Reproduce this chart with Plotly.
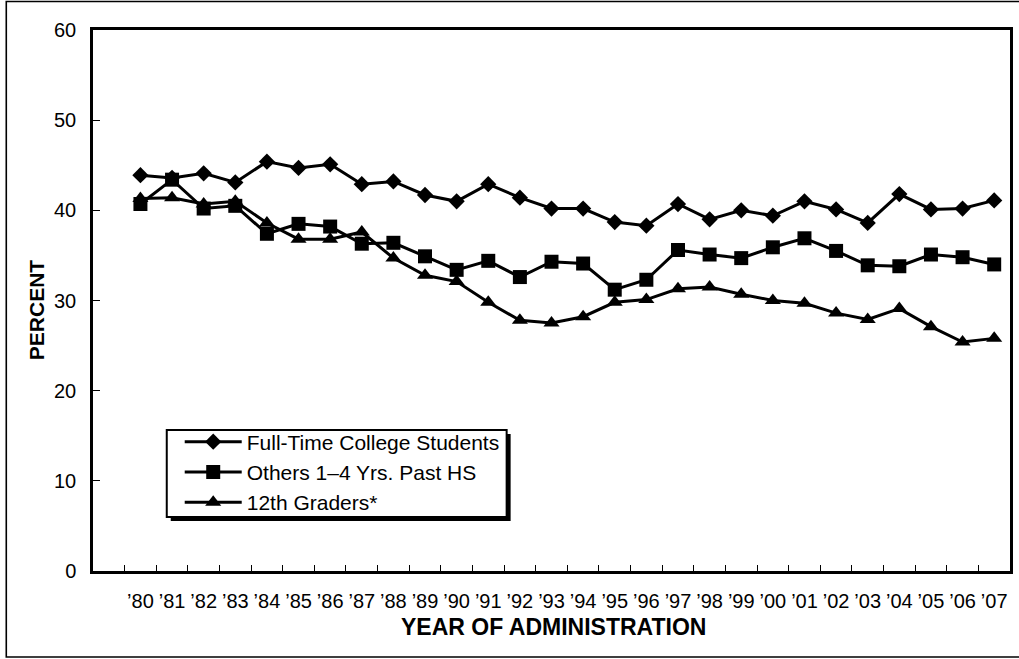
import plotly.graph_objects as go

# Survey years (two-digit labels) and annual prevalence by group, in percent
years = ["’80", "’81", "’82", "’83", "’84", "’85", "’86", "’87", "’88", "’89",
         "’90", "’91", "’92", "’93", "’94", "’95", "’96", "’97", "’98", "’99",
         "’00", "’01", "’02", "’03", "’04", "’05", "’06", "’07"]

college = [43.9, 43.6, 44.1, 43.1, 45.4, 44.7, 45.1, 42.9, 43.2, 41.7,
           41.0, 42.9, 41.4, 40.2, 40.2, 38.7, 38.3, 40.7, 39.0, 40.0,
           39.4, 41.0, 40.1, 38.6, 41.8, 40.1, 40.2, 41.1]

others = [40.7, 43.4, 40.2, 40.5, 37.4, 38.5, 38.2, 36.3, 36.4, 34.9,
          33.4, 34.4, 32.6, 34.3, 34.1, 31.2, 32.3, 35.6, 35.1, 34.7,
          35.9, 36.9, 35.5, 33.9, 33.8, 35.1, 34.8, 34.0]

grade12 = [41.3, 41.4, 40.7, 41.0, 38.6, 36.8, 36.8, 37.6, 34.7, 32.8,
           32.1, 29.8, 27.8, 27.5, 28.2, 29.8, 30.1, 31.3, 31.5, 30.7,
           30.0, 29.7, 28.6, 27.9, 29.1, 27.1, 25.4, 25.8]

series = [
    ("Full-Time College Students", college, "diamond", 12.5),
    ("Others 1–4 Yrs. Past HS", others, "square", 14),
    ("12th Graders*", grade12, "triangle-up", 14),
]

FONT = "Liberation Sans, Arial, sans-serif"

fig = go.Figure()
for name, vals, symbol, size in series:
    fig.add_trace(go.Scatter(
        x=years, y=vals, name=name, mode="lines+markers",
        line=dict(color="black", width=3),
        marker=dict(symbol=symbol, size=size, color="black",
                    line=dict(width=0)),
    ))

# Plot area in pixels: x 93..1013, y 30..571
W, H = 1019, 659
L, R, T, B = 93, 6, 30, 88
pw, ph = W - L - R, H - T - B


def px(x):
    return (x - L) / pw


def py(y):
    return (H - B - y) / ph


shapes = [
    # outer frame around the whole figure
    dict(type="rect", xref="paper", yref="paper",
         x0=px(6), x1=px(1030), y0=py(657), y1=py(1.5),
         line=dict(color="black", width=1.6), fillcolor="rgba(0,0,0,0)",
         layer="below"),
    # legend box: drop shadow, then the white framed panel
    dict(type="rect", xref="paper", yref="paper",
         x0=px(171), x1=px(512), y0=py(521), y1=py(434),
         line=dict(width=0), fillcolor="black", layer="above"),
    dict(type="rect", xref="paper", yref="paper",
         x0=px(167), x1=px(508), y0=py(517), y1=py(430),
         line=dict(color="black", width=2), fillcolor="white",
         layer="above"),
]

annotations = [
    dict(text="<b>YEAR OF ADMINISTRATION</b>", xref="paper", yref="paper",
         x=px(555), y=py(627), xanchor="center", yanchor="middle",
         showarrow=False, font=dict(family=FONT, size=23, color="black")),
    dict(text="<b>PERCENT</b>", xref="paper", yref="paper",
         x=px(36), y=py(310), xanchor="center", yanchor="middle",
         textangle=-90, showarrow=False,
         font=dict(family=FONT, size=21, color="black")),
]

fig.update_layout(
    width=W, height=H,
    margin=dict(l=L, r=R, t=T, b=B),
    paper_bgcolor="white", plot_bgcolor="white",
    font=dict(family=FONT, size=20, color="black"),
    showlegend=True,
    legend=dict(
        x=px(180), y=py(472), xanchor="left", yanchor="middle",
        bgcolor="rgba(0,0,0,0)", borderwidth=0,
        font=dict(family=FONT, size=21, color="black"),
        itemwidth=57, tracegroupgap=0,
    ),
    shapes=shapes,
    annotations=annotations,
    xaxis=dict(
        type="category", range=[-1.5, 27.5], tickangle=0,
        tickson="boundaries", ticks="inside", ticklen=6, tickwidth=1,
        tickcolor="black", showgrid=False, zeroline=False,
        showline=True, linecolor="black", linewidth=2.5, mirror=True,
        tickfont=dict(family=FONT, size=20, color="black"),
        ticklabelstandoff=10,
    ),
    yaxis=dict(
        range=[0, 60], dtick=10, ticks="inside", ticklen=7, tickwidth=1,
        tickcolor="black", showgrid=False, zeroline=False,
        showline=True, linecolor="black", linewidth=2.5, mirror=True,
        tickfont=dict(family=FONT, size=20, color="black"),
        ticklabelstandoff=10,
    ),
)

fig.write_html("out.html")
